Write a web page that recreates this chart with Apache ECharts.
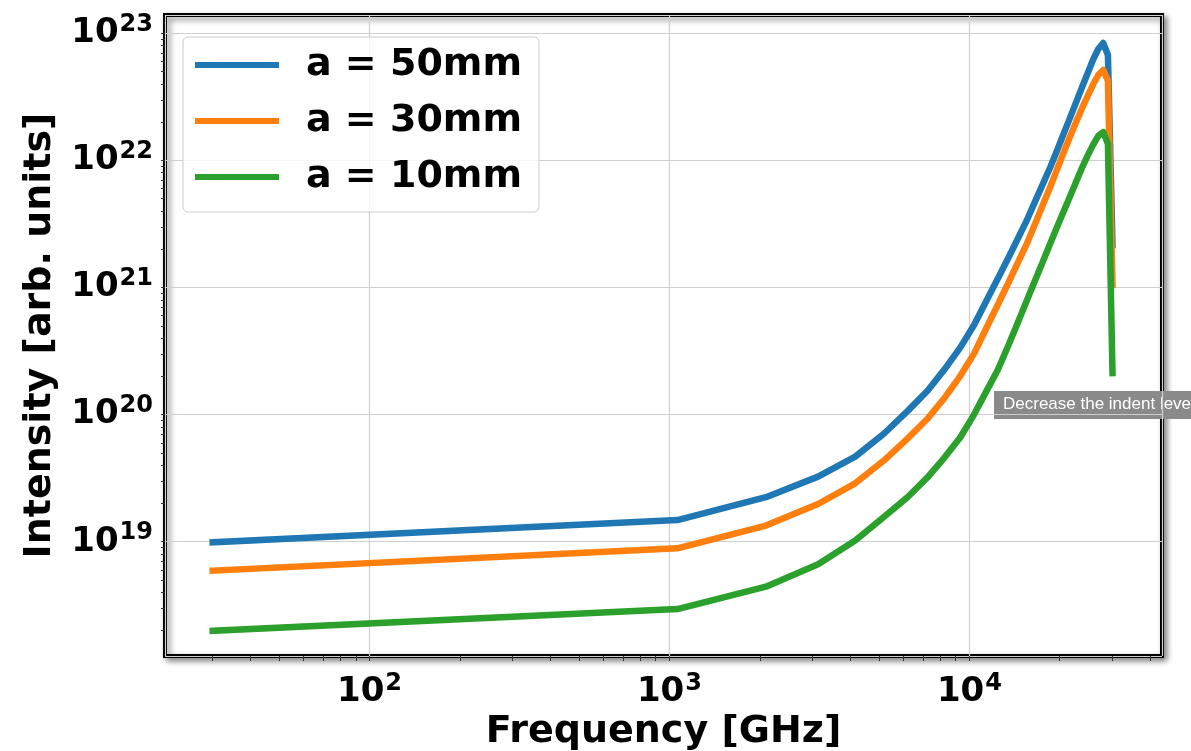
<!DOCTYPE html>
<html>
<head>
<meta charset="utf-8">
<title>Intensity vs Frequency</title>
<script src="https://cdn.jsdelivr.net/npm/echarts@6.0.0/dist/echarts.min.js"></script>
<style>
    html, body { margin: 0; padding: 0; background: #fff; }
    #chart { width: 1191px; height: 751px; }
</style>
</head>
<body>
<div id="chart"></div>
<script>
    // frequency points [GHz]
    var freqGHz = [30, 1063, 2097, 3130, 4163, 5197, 6230, 7264, 8297, 9330,
        10364, 11397, 12430, 13464, 14497, 15531, 16564, 17597, 18631, 19664,
        20697, 21731, 22764, 23798, 24831, 25864, 26898, 27931, 28964, 30000];

    // intensity [arb. units]
    var a50 = [9.9e18, 1.48e19, 2.24e19, 3.25e19, 4.67e19, 7.1e19, 1.07e20, 1.55e20, 2.30e20, 3.38e20,
        5.07e20, 7.87e20, 1.17e21, 1.70e21, 2.42e21, 3.37e21, 4.76e21, 6.56e21, 8.92e21, 1.22e22,
        1.66e22, 2.21e22, 2.93e22, 3.81e22, 4.89e22, 6.22e22, 7.52e22, 8.39e22, 6.75e22, 2.16e21];
    var a30 = [5.92e18, 8.87e18, 1.34e19, 1.98e19, 2.88e19, 4.37e19, 6.5e19, 9.33e19, 1.37e20, 2.02e20,
        3.02e20, 4.8e20, 7.28e20, 1.08e21, 1.56e21, 2.2e21, 3.18e21, 4.49e21, 6.24e21, 8.65e21,
        1.18e22, 1.57e22, 2.04e22, 2.6e22, 3.23e22, 3.97e22, 4.7e22, 5.14e22, 4.26e22, 1.05e21];
    var a10 = [1.99e18, 2.95e18, 4.43e18, 6.64e18, 1.02e19, 1.57e19, 2.25e19, 3.22e19, 4.65e19, 6.64e19,
        1.0e20, 1.53e20, 2.24e20, 3.47e20, 5.29e20, 7.87e20, 1.14e21, 1.61e21, 2.24e21, 3.05e21,
        4.06e21, 5.32e21, 6.91e21, 8.86e21, 1.10e22, 1.33e22, 1.56e22, 1.67e22, 1.35e22, 2.12e20];

    var seriesNames = ['a = 50mm', 'a = 30mm', 'a = 10mm'];
    var seriesColors = ['#1f77b4', '#ff7f0e', '#2ca02c'];

    // tick positions (majors + log minors)
    var xTickValues = [30, 40, 50, 60, 70, 80, 90, 100, 200, 300, 400, 500, 600, 700, 800, 900,
        1000, 2000, 3000, 4000, 5000, 6000, 7000, 8000, 9000, 10000, 20000, 30000, 40000];
    var yDecades = [18, 19, 20, 21, 22];
    var yTickValues = [];
    yDecades.forEach(function (d) {
        for (var m = 1; m < 10; m++) {
            var v = m * Math.pow(10, d);
            if (v > 1.3e18) yTickValues.push(v);
        }
    });
    yTickValues.push(1e23);

    var xRange = [20.8, 43870];
    var yRange = [1.261e18, 1.393e23];

    var font = '"DejaVu Sans", "Noto Sans", sans-serif';

    // 10^n label as rich text
    function pow10Label(v) {
        var lg = Math.log10(v);
        var e = Math.round(lg);
        if (Math.abs(lg - e) > 1e-6) return '';
        return '{b|10}{s|' + e + '}';
    }
    var labelRich = {
        b: {fontFamily: font, fontWeight: 'bold', fontSize: 34, color: '#000', lineHeight: 42},
        s: {fontFamily: font, fontWeight: 'bold', fontSize: 24, color: '#000', lineHeight: 26, padding: [0, 0, 17, 1]}
    };

    function makeSeries(name, values, color) {
        return {
            name: name,
            type: 'line',
            xAxisIndex: 0,
            yAxisIndex: 0,
            symbol: 'none',
            lineStyle: {color: color, width: 6.5, cap: 'square', join: 'round'},
            itemStyle: {color: color},
            emphasis: {disabled: true},
            data: freqGHz.map(function (f, i) { return [f, values[i]]; })
        };
    }

    var myChart = echarts.init(document.getElementById('chart'));
    myChart.setOption({
        animation: false,
        grid: {
            left: 165, right: 29, top: 15, bottom: 95,
            outerBoundsMode: 'none',
            containLabel: false,
            show: true,
            backgroundColor: '#fff',
            borderColor: '#000',
            borderWidth: 4,
            shadowBlur: 6,
            shadowOffsetX: 3,
            shadowOffsetY: 3,
            shadowColor: 'rgba(0,0,0,0.45)'
        },
        legend: {
            orient: 'vertical',
            left: 183,
            top: 37,
            data: seriesNames,
            icon: 'rect',
            itemWidth: 84,
            itemHeight: 6,
            itemGap: 16,
            padding: [8, 17, 15, 12],
            backgroundColor: 'rgba(255,255,255,0.8)',
            borderColor: '#cccccc',
            borderWidth: 1,
            borderRadius: 5,
            textStyle: {fontFamily: font, fontWeight: 'bold', fontSize: 38, color: '#000', lineHeight: 40, padding: [0, 0, 0, 22]}
        },
        xAxis: [
            {
                type: 'log',
                logBase: 10,
                min: xRange[0],
                max: xRange[1],
                position: 'bottom',
                axisLine: {show: false},
                axisTick: {show: false},
                splitLine: {show: true, lineStyle: {color: '#cfcfcf', width: 1.2}},
                axisLabel: {formatter: pow10Label, rich: labelRich, margin: 15, showMinLabel: false, showMaxLabel: false},
                name: 'Frequency [GHz]',
                nameLocation: 'middle',
                nameGap: 57,
                nameMoveOverlap: false,
                nameTextStyle: {fontFamily: font, fontWeight: 'bold', fontSize: 38, color: '#000'}
            },
            {
                type: 'log',
                logBase: 10,
                min: xRange[0],
                max: xRange[1],
                position: 'bottom',
                axisLine: {show: false},
                splitLine: {show: false},
                axisLabel: {show: false},
                axisTick: {show: true, customValues: xTickValues, length: 5, lineStyle: {color: '#333', width: 1}}
            }
        ],
        yAxis: [
            {
                type: 'log',
                logBase: 10,
                min: yRange[0],
                max: yRange[1],
                position: 'left',
                axisLine: {show: false},
                axisTick: {show: false},
                splitLine: {show: true, lineStyle: {color: '#cfcfcf', width: 1.2}},
                axisLabel: {formatter: pow10Label, rich: labelRich, margin: 12, showMinLabel: false, showMaxLabel: false},
                name: 'Intensity [arb. units]',
                nameLocation: 'middle',
                nameGap: 106,
                nameMoveOverlap: false,
                nameTextStyle: {fontFamily: font, fontWeight: 'bold', fontSize: 38, color: '#000'}
            },
            {
                type: 'log',
                logBase: 10,
                min: yRange[0],
                max: yRange[1],
                position: 'left',
                axisLine: {show: false},
                splitLine: {show: false},
                axisLabel: {show: false},
                axisTick: {show: true, customValues: yTickValues, length: 4, lineStyle: {color: '#333', width: 1}}
            }
        ],
        series: [
            makeSeries(seriesNames[0], a50, seriesColors[0]),
            makeSeries(seriesNames[1], a30, seriesColors[1]),
            makeSeries(seriesNames[2], a10, seriesColors[2])
        ],
        graphic: [
            {
                type: 'group',
                x: 994,
                y: 391,
                z: 100,
                children: [
                    {type: 'rect', shape: {x: 0, y: 0, width: 220, height: 28}, style: {fill: '#8a8a8a'}},
                    {type: 'text', x: 9, y: 5, style: {text: 'Decrease the indent level', fill: '#fff', font: '17px "Liberation Sans", Arial, sans-serif'}}
                ]
            }
        ]
    });
</script>
</body>
</html>
